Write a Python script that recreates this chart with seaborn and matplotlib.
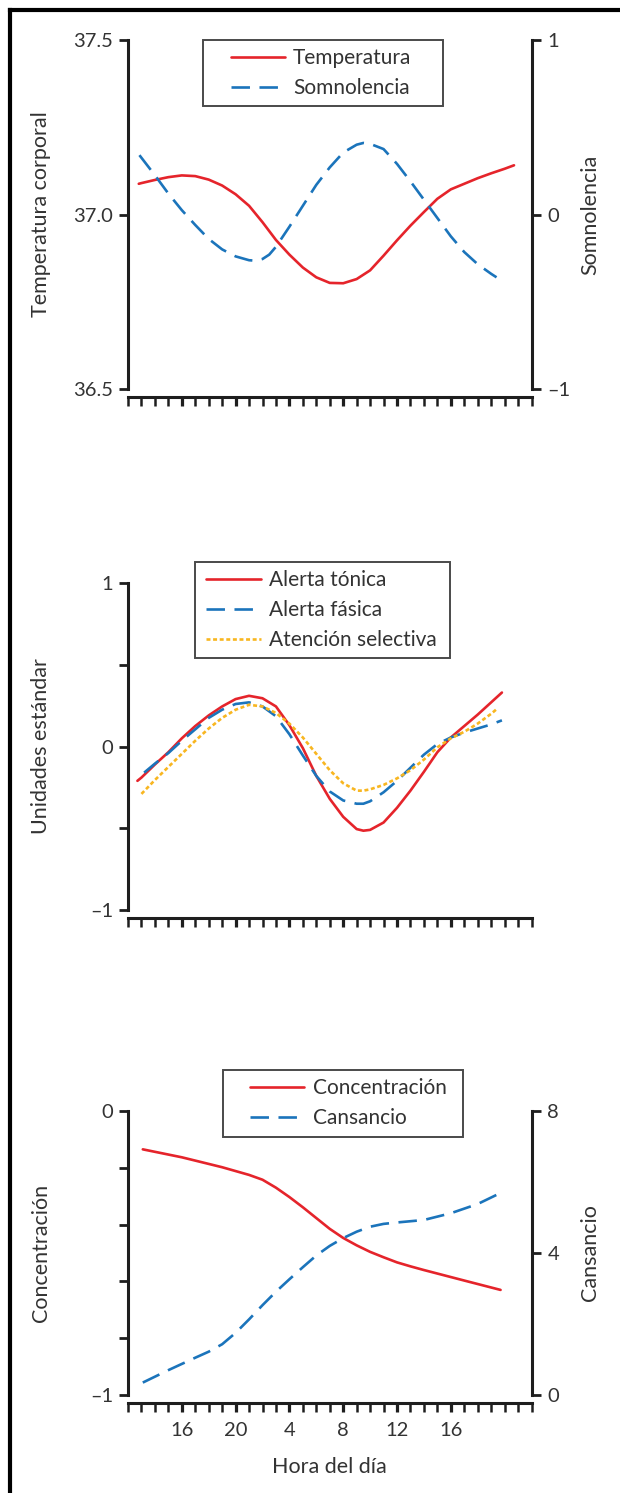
import pandas as pd
import matplotlib.pyplot as plt
import seaborn as sns
from matplotlib.lines import Line2D
from matplotlib.legend_handler import HandlerLine2D

# x = hours counted from the first tick of the time axis (one tick per hour)
hour_ticks = [4, 8, 12, 16, 20, 24]
hour_labels = ["16", "20", "4", "8", "12", "16"]

# panel 1
temp_x = [0.8, 1, 2, 3, 4, 5, 6, 7, 8, 9, 10, 11, 12, 13, 14, 15, 16, 17, 18,
          19, 20, 21, 22, 23, 24, 25, 26, 27, 28, 28.7]
temp_y = [37.088, 37.090, 37.099, 37.107, 37.112, 37.110, 37.100, 37.083,
          37.058, 37.025, 36.978, 36.927, 36.885, 36.848, 36.820, 36.804,
          36.803, 36.815, 36.840, 36.882, 36.926, 36.968, 37.007, 37.045,
          37.072, 37.088, 37.104, 37.118, 37.131, 37.141]
somn_x = [0.85, 1, 2, 3, 4, 5, 6, 7, 8, 9, 9.5, 10, 10.5, 11, 12, 13, 14, 15,
          16, 17, 17.5, 18, 19, 20, 21, 22, 23, 24, 25, 26, 27, 27.4]
somn_y = [0.34, 0.325, 0.225, 0.12, 0.025, -0.06, -0.14, -0.20, -0.24, -0.262,
          -0.265, -0.255, -0.23, -0.185, -0.07, 0.05, 0.17, 0.27, 0.355, 0.40,
          0.41, 0.405, 0.375, 0.29, 0.19, 0.085, -0.02, -0.125, -0.215, -0.285,
          -0.34, -0.36]

# panel 2
tonica_x = [0.7, 1, 2, 3, 4, 5, 6, 7, 8, 9, 10, 11, 12, 13, 14, 15, 16, 17,
            17.5, 18, 19, 20, 21, 22, 23, 24, 25, 26, 27, 27.8]
tonica_y = [-0.21, -0.19, -0.11, -0.035, 0.05, 0.125, 0.19, 0.245, 0.29, 0.31,
            0.295, 0.245, 0.13, -0.01, -0.18, -0.32, -0.43, -0.505, -0.515,
            -0.51, -0.465, -0.375, -0.27, -0.155, -0.035, 0.055, 0.125, 0.195,
            0.27, 0.33]
fasica_x = [1.2, 2, 3, 4, 5, 6, 7, 8, 9, 10, 11, 12, 13, 14, 15, 16, 17, 17.5,
            18, 19, 20, 21, 22, 23, 24, 25, 26, 27, 27.8]
fasica_y = [-0.16, -0.105, -0.04, 0.035, 0.105, 0.175, 0.225, 0.26, 0.27, 0.245,
            0.185, 0.075, -0.055, -0.18, -0.275, -0.33, -0.35, -0.35, -0.335,
            -0.28, -0.21, -0.13, -0.05, 0.015, 0.055, 0.085, 0.11, 0.135, 0.16]
selec_x = [1.0, 2, 3, 4, 5, 6, 7, 8, 9, 10, 11, 12, 13, 14, 15, 16, 17, 17.5,
           18, 19, 20, 21, 22, 23, 24, 25, 26, 27, 27.5]
selec_y = [-0.29, -0.205, -0.125, -0.045, 0.035, 0.11, 0.175, 0.225, 0.255,
           0.245, 0.205, 0.14, 0.055, -0.045, -0.145, -0.225, -0.27, -0.27,
           -0.262, -0.235, -0.195, -0.145, -0.08, -0.005, 0.05, 0.09, 0.14,
           0.20, 0.235]

# panel 3
conc_x = [1.1, 4, 7, 9, 10, 11, 12, 13, 14, 15, 16, 17, 18, 19, 20, 21, 22,
          25, 27.7]
conc_y = [-0.135, -0.163, -0.198, -0.225, -0.242, -0.27, -0.303, -0.339,
          -0.377, -0.415, -0.447, -0.473, -0.496, -0.515, -0.533, -0.547,
          -0.56, -0.597, -0.63]
cans_x = [1.1, 3, 5, 6, 7, 8, 9, 10, 11, 12, 13, 14, 15, 16, 17, 18, 19, 20,
          22, 24, 26, 27.8]
cans_y = [0.35, 0.70, 1.05, 1.22, 1.43, 1.75, 2.13, 2.53, 2.91, 3.26, 3.6,
          3.93, 4.2, 4.42, 4.6, 4.74, 4.82, 4.86, 4.93, 5.12, 5.38, 5.71]

RED = "#e5242b"
BLUE = "#1b74bb"
YELLOW = "#f8b620"
INK = "#1e1e1e"
TXT = "#333333"
FS = 15.5
TFS = 14.5
LFS = 15
SOLID = "-"
DASHED = (0, (7, 3.6))
DOTTED = (0, (1.5, 1.0))

sns.set_theme(style="ticks")
plt.rcParams["font.family"] = ["Lato", "DejaVu Sans"]
plt.rcParams["text.color"] = TXT
plt.rcParams["axes.labelcolor"] = TXT

W, H = 620, 1493
fig = plt.figure(figsize=(W / 100, H / 100), dpi=100)


def make_axes(top, bottom):
    return fig.add_axes([128 / W, 1 - bottom / H, 403.5 / W, (bottom - top) / H])


def style(ax, labels=False):
    ax.set_xlim(0, 30)
    ax.spines["top"].set_visible(False)
    ax.spines["right"].set_visible(False)
    ax.spines["bottom"].set_position(("outward", 6))
    for s in ax.spines.values():
        s.set_linewidth(2.2)
        s.set_color(INK)
    ax.set_xticks(hour_ticks)
    ax.set_xticks(range(31), minor=True)
    ax.tick_params(axis="x", which="both", direction="out", length=6.5,
                   width=1.8, color=INK, labelsize=TFS, labelcolor=TXT, pad=7)
    ax.tick_params(axis="x", which="major", width=2.3)
    ax.tick_params(axis="y", which="both", direction="out", length=6.5,
                   width=2.0, color=INK, labelsize=TFS, labelcolor=TXT, pad=4)
    if labels:
        ax.set_xticklabels(hour_labels)
    else:
        ax.set_xticklabels([])
    ax.set_xlabel("")


def style_right(ax2):
    for side in ["top", "left", "bottom"]:
        ax2.spines[side].set_visible(False)
    ax2.spines["right"].set_linewidth(2.2)
    ax2.spines["right"].set_color(INK)
    ax2.tick_params(axis="y", direction="out", length=6.5, width=2.0,
                    color=INK, labelsize=TFS, labelcolor=TXT, pad=5)


def line(ax, x, y, color, ls, label):
    df = pd.DataFrame({"x": x, "y": y})
    sns.lineplot(data=df, x="x", y="y", ax=ax, color=color, linestyle=ls,
                 lw=1.9, label=label, sort=False, legend=False)
    ax.lines[-1].set_solid_joinstyle("round")
    ax.set_xlabel("")
    ax.set_ylabel("")
    return ax.lines[-1]


def add_legend(ax, handles, x0, y1, w, xpad):
    leg = ax.legend(handles, [h.get_label() for h in handles], loc="upper left",
                    bbox_to_anchor=(x0, 0, w, y1), mode="expand", borderaxespad=0,
                    frameon=True, fancybox=False, edgecolor="#4a4a4a",
                    facecolor="white", framealpha=1, fontsize=LFS,
                    handlelength=2.6 + xpad, handletextpad=0.4,
                    labelspacing=0.47, borderpad=0.4,
                    handler_map={Line2D: HandlerLine2D(xpad=xpad)})
    leg.get_frame().set_linewidth(1.4)
    for t in leg.get_texts():
        t.set_color(TXT)
    return leg


# ---- panel 1
ax1 = make_axes(40, 389)
ax1r = ax1.twinx()
h1 = line(ax1, temp_x, temp_y, RED, SOLID, "Temperatura")
h2 = line(ax1r, somn_x, somn_y, BLUE, DASHED, "Somnolencia")
style(ax1)
style_right(ax1r)
ax1.set_ylim(36.5, 37.5)
ax1.set_yticks([36.5, 37.0, 37.5])
ax1.set_yticklabels(["36.5", "37.0", "37.5"])
ax1r.set_ylim(-1, 1)
ax1r.set_yticks([-1, 0, 1])
ax1r.set_yticklabels(["–1", "0", "1"])
ax1.set_ylabel("Temperatura corporal", fontsize=FS)
ax1.yaxis.set_label_coords(-0.19, 0.5)
ax1r.set_ylabel("Somnolencia", fontsize=FS)
ax1r.yaxis.set_label_coords(1.12, 0.5)
add_legend(ax1r, [h1, h2], 0.186, 1.0, 0.595, 0.92)

# ---- panel 2
ax2 = make_axes(583, 910)
h3 = line(ax2, tonica_x, tonica_y, RED, SOLID, "Alerta tónica")
h4 = line(ax2, fasica_x, fasica_y, BLUE, DASHED, "Alerta fásica")
h5 = line(ax2, selec_x, selec_y, YELLOW, DOTTED, "Atención selectiva")
style(ax2)
ax2.set_ylim(-1, 1)
ax2.set_yticks([-1, -0.5, 0, 0.5, 1])
ax2.set_yticklabels(["–1", "", "0", "", "1"])
ax2.set_ylabel("Unidades estándar", fontsize=FS)
ax2.yaxis.set_label_coords(-0.19, 0.5)
add_legend(ax2, [h3, h4, h5], 0.166, 1.064, 0.632, 0.15)

# ---- panel 3
ax3 = make_axes(1111, 1395)
ax3r = ax3.twinx()
h6 = line(ax3, conc_x, conc_y, RED, SOLID, "Concentración")
h7 = line(ax3r, cans_x, cans_y, BLUE, DASHED, "Cansancio")
style(ax3, labels=True)
style_right(ax3r)
ax3.set_ylim(-1, 0)
ax3.set_yticks([-1, -0.8, -0.6, -0.4, -0.2, 0])
ax3.set_yticklabels(["–1", "", "", "", "", "0"])
ax3r.set_ylim(0, 8)
ax3r.set_yticks([0, 4, 8])
ax3r.set_yticklabels(["0", "4", "8"])
ax3.set_ylabel("Concentración", fontsize=FS)
ax3.yaxis.set_label_coords(-0.19, 0.5)
ax3r.set_ylabel("Cansancio", fontsize=FS)
ax3r.yaxis.set_label_coords(1.12, 0.5)
ax3.set_xlabel("Hora del día", fontsize=FS, labelpad=13)
add_legend(ax3r, [h6, h7], 0.235, 1.144, 0.595, 0.92)

# outer frame (left and top edges)
fig.add_artist(Line2D([9.5 / W, 9.5 / W], [0, 1 - 9.5 / H], color="black",
                      lw=3, transform=fig.transFigure, solid_capstyle="projecting"))
fig.add_artist(Line2D([9.5 / W, 1], [1 - 9.5 / H, 1 - 9.5 / H], color="black",
                      lw=3, transform=fig.transFigure, solid_capstyle="projecting"))

fig.savefig("out.png", dpi=100, facecolor="white")
